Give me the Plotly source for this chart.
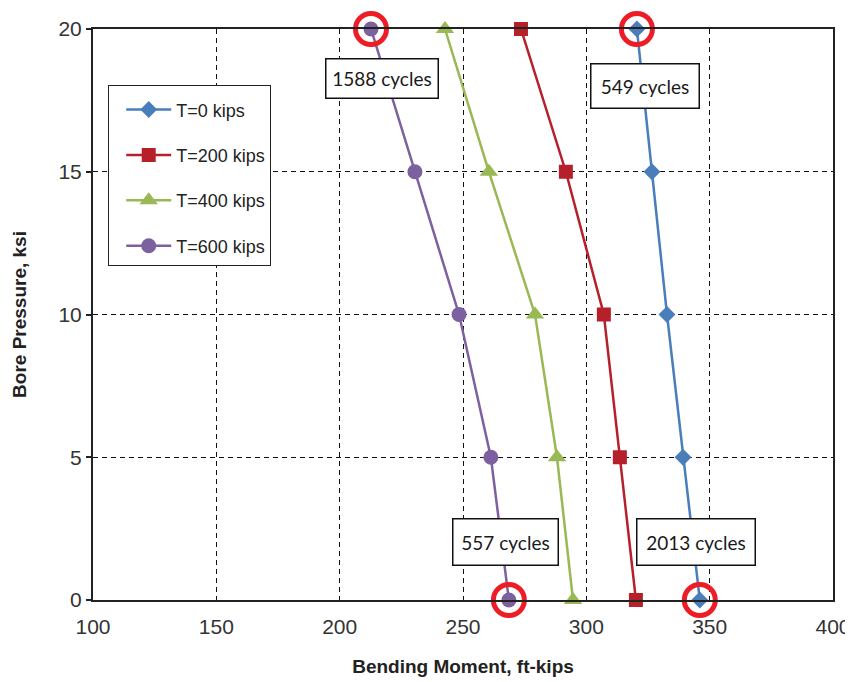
import plotly.graph_objects as go

pressure = [0, 5, 10, 15, 20]
moment_t0 = [346.0, 339.2, 332.7, 326.6, 320.5]
moment_t200 = [320.1, 313.6, 307.1, 291.7, 273.5]
moment_t400 = [294.6, 288.1, 279.2, 260.5, 242.7]
moment_t600 = [268.6, 261.3, 248.4, 230.5, 212.7]

series_names = ["T=0 kips", "T=200 kips", "T=400 kips", "T=600 kips"]
series_colors = ["#4a7ebb", "#b5202a", "#98b954", "#7d60a0"]
series_symbols = ["diamond", "square", "triangle-up", "circle"]
series_sizes = [13, 14, 16, 15]

# highlighted failure points and their cycle labels
highlight_x = [moment_t600[4], moment_t0[4], moment_t600[0], moment_t0[0]]
highlight_y = [20, 20, 0, 0]
label_texts = ["1588 cycles", "549 cycles", "557 cycles", "2013 cycles"]
label_x = [217.1, 323.8, 267.4, 344.6]
label_y = [18.25, 18.0, 2.03, 2.03]
label_w = [113, 109, 106, 119]
label_h = [40, 45, 47, 47]

x_ticks = [100, 150, 200, 250, 300, 350, 400]
y_ticks = [0, 5, 10, 15, 20]

fig = go.Figure()
all_series = [moment_t0, moment_t200, moment_t400, moment_t600]
for i, xs in enumerate(all_series):
    fig.add_trace(go.Scatter(
        x=xs, y=pressure, mode="lines+markers", name=series_names[i],
        legendgroup=series_names[i],
        line=dict(color=series_colors[i], width=2.5),
        marker=dict(symbol=series_symbols[i], size=series_sizes[i], color=series_colors[i]),
        cliponaxis=False,
    ))

fig.add_trace(go.Scatter(
    x=highlight_x, y=highlight_y, mode="markers", showlegend=False,
    marker=dict(symbol="circle-open", size=31, color="#ee1c25",
                line=dict(color="#ee1c25", width=5)),
    cliponaxis=False, hoverinfo="skip",
))

for t, x, y, w, h in zip(label_texts, label_x, label_y, label_w, label_h):
    fig.add_annotation(
        x=x, y=y, xref="x", yref="y", text=t, showarrow=False,
        font=dict(family="Lato", size=19, color="#1a1a1a"),
        bgcolor="white", bordercolor="#111111", borderwidth=1.5,
        width=w - 4, height=h - 4, align="center", valign="middle",
    )

axis_font = dict(family="Liberation Sans", size=21, color="#333333")
fig.update_xaxes(
    range=[100, 400], tickvals=x_ticks, ticktext=[str(v) for v in x_ticks],
    showgrid=True, gridcolor="#111111", gridwidth=1.2, griddash="5px,4px",
    showline=True, linecolor="#222222", linewidth=2, mirror=True,
    zeroline=False, ticks="", tickfont=axis_font, automargin=False,
    ticklabelstandoff=7,
    title=dict(text="<b>Bending Moment, ft-kips</b>", font=dict(family="Liberation Sans", size=19, color="#222222"), standoff=22),
)
fig.update_yaxes(
    range=[0, 20], tickvals=y_ticks, ticktext=[str(v) for v in y_ticks],
    showgrid=True, gridcolor="#111111", gridwidth=1.2, griddash="5px,4px",
    showline=True, linecolor="#222222", linewidth=2, mirror=True,
    zeroline=False, ticks="outside", ticklen=5, tickcolor="#222222", tickwidth=1.5,
    tickfont=axis_font, automargin=False,
    title=dict(text="<b>Bore Pressure, ksi</b>", font=dict(family="Liberation Sans", size=19, color="#222222"), standoff=27),
)

fig.update_layout(
    width=845, height=674,
    margin=dict(l=85, r=20, t=21, b=82, autoexpand=False),
    plot_bgcolor="white", paper_bgcolor="white",
    legend=dict(
        x=0.0203, y=0.902, xanchor="left", yanchor="top",
        bgcolor="white", bordercolor="#222222", borderwidth=1.2,
        font=dict(family="Liberation Sans", size=18, color="#222222"),
        title=dict(text=" ", font=dict(size=4)),
        tracegroupgap=19, itemwidth=45, indentation=12,
        entrywidth=150, entrywidthmode="pixels",
    ),
)

fig.write_html("out.html")
